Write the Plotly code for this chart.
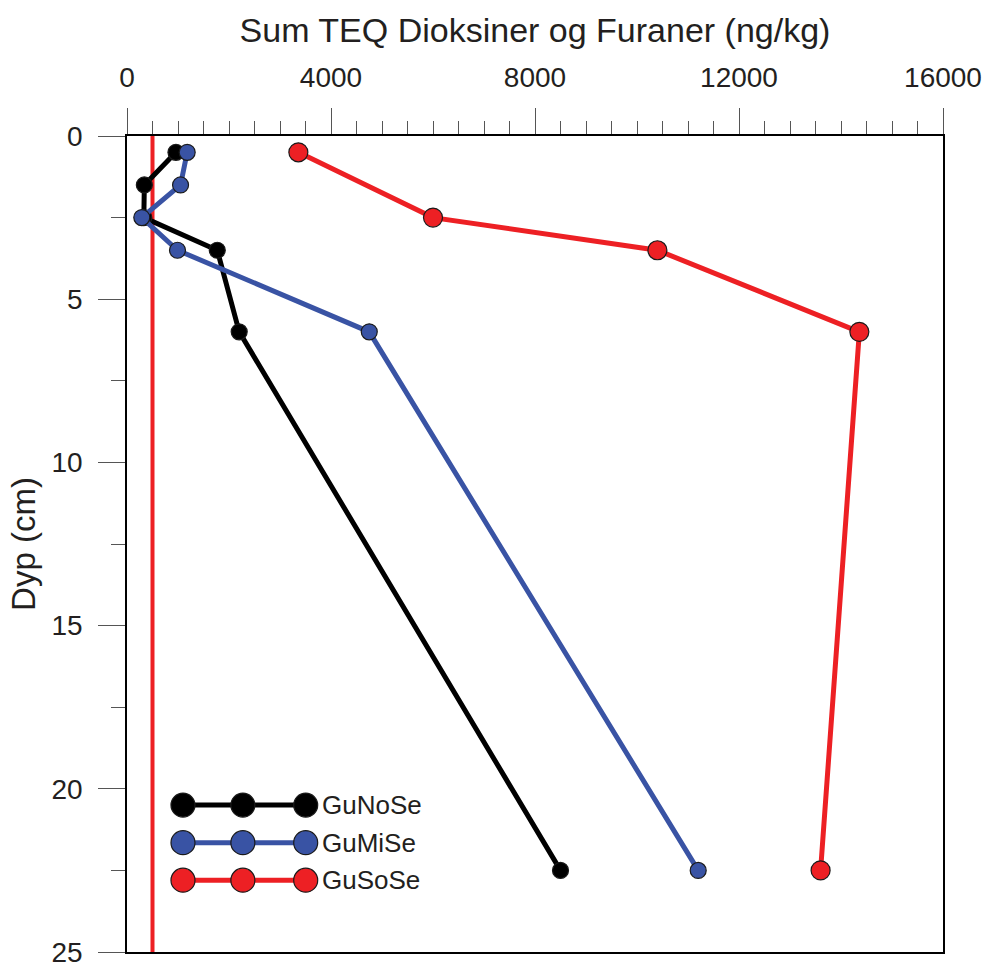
import plotly.graph_objects as go

# Depth profiles of sum TEQ dioxins and furans (ng/kg) at three stations
depth_cm = [0.5, 1.5, 2.5, 3.5, 6.0, 22.5]
gunose = [960, 340, 330, 1770, 2200, 8500]
gumise = [1180, 1050, 290, 990, 4750, 11200]

depth_soso = [0.5, 2.5, 3.5, 6.0, 22.5]
gusose = [3360, 6000, 10400, 14360, 13600]

# Reference limit drawn as a vertical line across the full depth range
limit_value = 500
limit_depths = [0, 25]

series_names = ["GuNoSe", "GuMiSe", "GuSoSe"]
colors = {"GuNoSe": "#000000", "GuMiSe": "#3953a4", "GuSoSe": "#ed2024"}

FONT = "Liberation Sans, Arial, sans-serif"
TEXT = "#231f20"

fig = go.Figure()

fig.add_trace(go.Scatter(
    x=[limit_value, limit_value], y=limit_depths, mode="lines",
    line=dict(color="#ed2024", width=4), showlegend=False, hoverinfo="skip"))

profiles = [
    ("GuNoSe", gunose, depth_cm, 16),
    ("GuMiSe", gumise, depth_cm, 16),
    ("GuSoSe", gusose, depth_soso, 19),
]
for name, xs, ys, msize in profiles:
    fig.add_trace(go.Scatter(
        x=xs, y=ys, mode="lines+markers", name=name,
        line=dict(color=colors[name], width=5),
        marker=dict(size=msize, color=colors[name],
                    line=dict(color="#1a1a1a", width=1.2)),
        showlegend=False))

# Hand-built legend key: three markers joined by a line, on an overlay axis
key_x = [0.0686, 0.142, 0.219]
key_rows = [0.180, 0.134, 0.088]
for name, ky in zip(series_names, key_rows):
    fig.add_trace(go.Scatter(
        x=key_x, y=[ky] * 3, mode="lines+markers", xaxis="x2", yaxis="y2",
        line=dict(color=colors[name], width=5),
        marker=dict(size=24, color=colors[name],
                    line=dict(color="#1a1a1a", width=1.2)),
        showlegend=False, hoverinfo="skip"))
    fig.add_annotation(
        x=0.237, y=ky, xref="x2", yref="y2", text=name, showarrow=False,
        xanchor="left", yanchor="middle",
        font=dict(family=FONT, size=26, color=TEXT))

fig.update_layout(
    width=983, height=962,
    margin=dict(l=127, r=40, t=136, b=10),
    paper_bgcolor="white", plot_bgcolor="white",
    font=dict(family=FONT, color=TEXT),
    xaxis=dict(
        side="top", range=[0, 16000], dtick=4000, tick0=0,
        tickformat="d", exponentformat="none", automargin=False,
        ticks="outside", ticklen=26, tickwidth=1.3, tickcolor="#555555",
        minor=dict(dtick=500, ticks="outside", ticklen=13, tickwidth=1,
                   tickcolor="#555555"),
        tickfont=dict(size=28, family=FONT, color=TEXT),
        ticklabelstandoff=10, ticklabeloverflow="allow",
        showgrid=False, zeroline=False,
        showline=True, linecolor="#000000", linewidth=1.5, mirror=True,
        title=dict(text="Sum TEQ Dioksiner og Furaner (ng/kg)",
                   font=dict(size=34, family=FONT, color=TEXT),
                   standoff=9),
    ),
    yaxis=dict(
        range=[25, 0], dtick=5, tick0=0, automargin=False,
        ticks="outside", ticklen=27, tickwidth=1.3, tickcolor="#555555",
        minor=dict(dtick=2.5, ticks="outside", ticklen=14, tickwidth=1,
                   tickcolor="#555555"),
        tickfont=dict(size=28, family=FONT, color=TEXT),
        ticklabelstandoff=10, ticklabeloverflow="allow",
        showgrid=False, zeroline=False,
        showline=True, linecolor="#000000", linewidth=1.5, mirror=True,
        title=dict(text="Dyp (cm)",
                   font=dict(size=33, family=FONT, color=TEXT),
                   standoff=6),
    ),
    xaxis2=dict(overlaying="x", range=[0, 1], visible=False, fixedrange=True),
    yaxis2=dict(overlaying="y", range=[0, 1], visible=False, fixedrange=True),
)

fig.write_html("out.html")
